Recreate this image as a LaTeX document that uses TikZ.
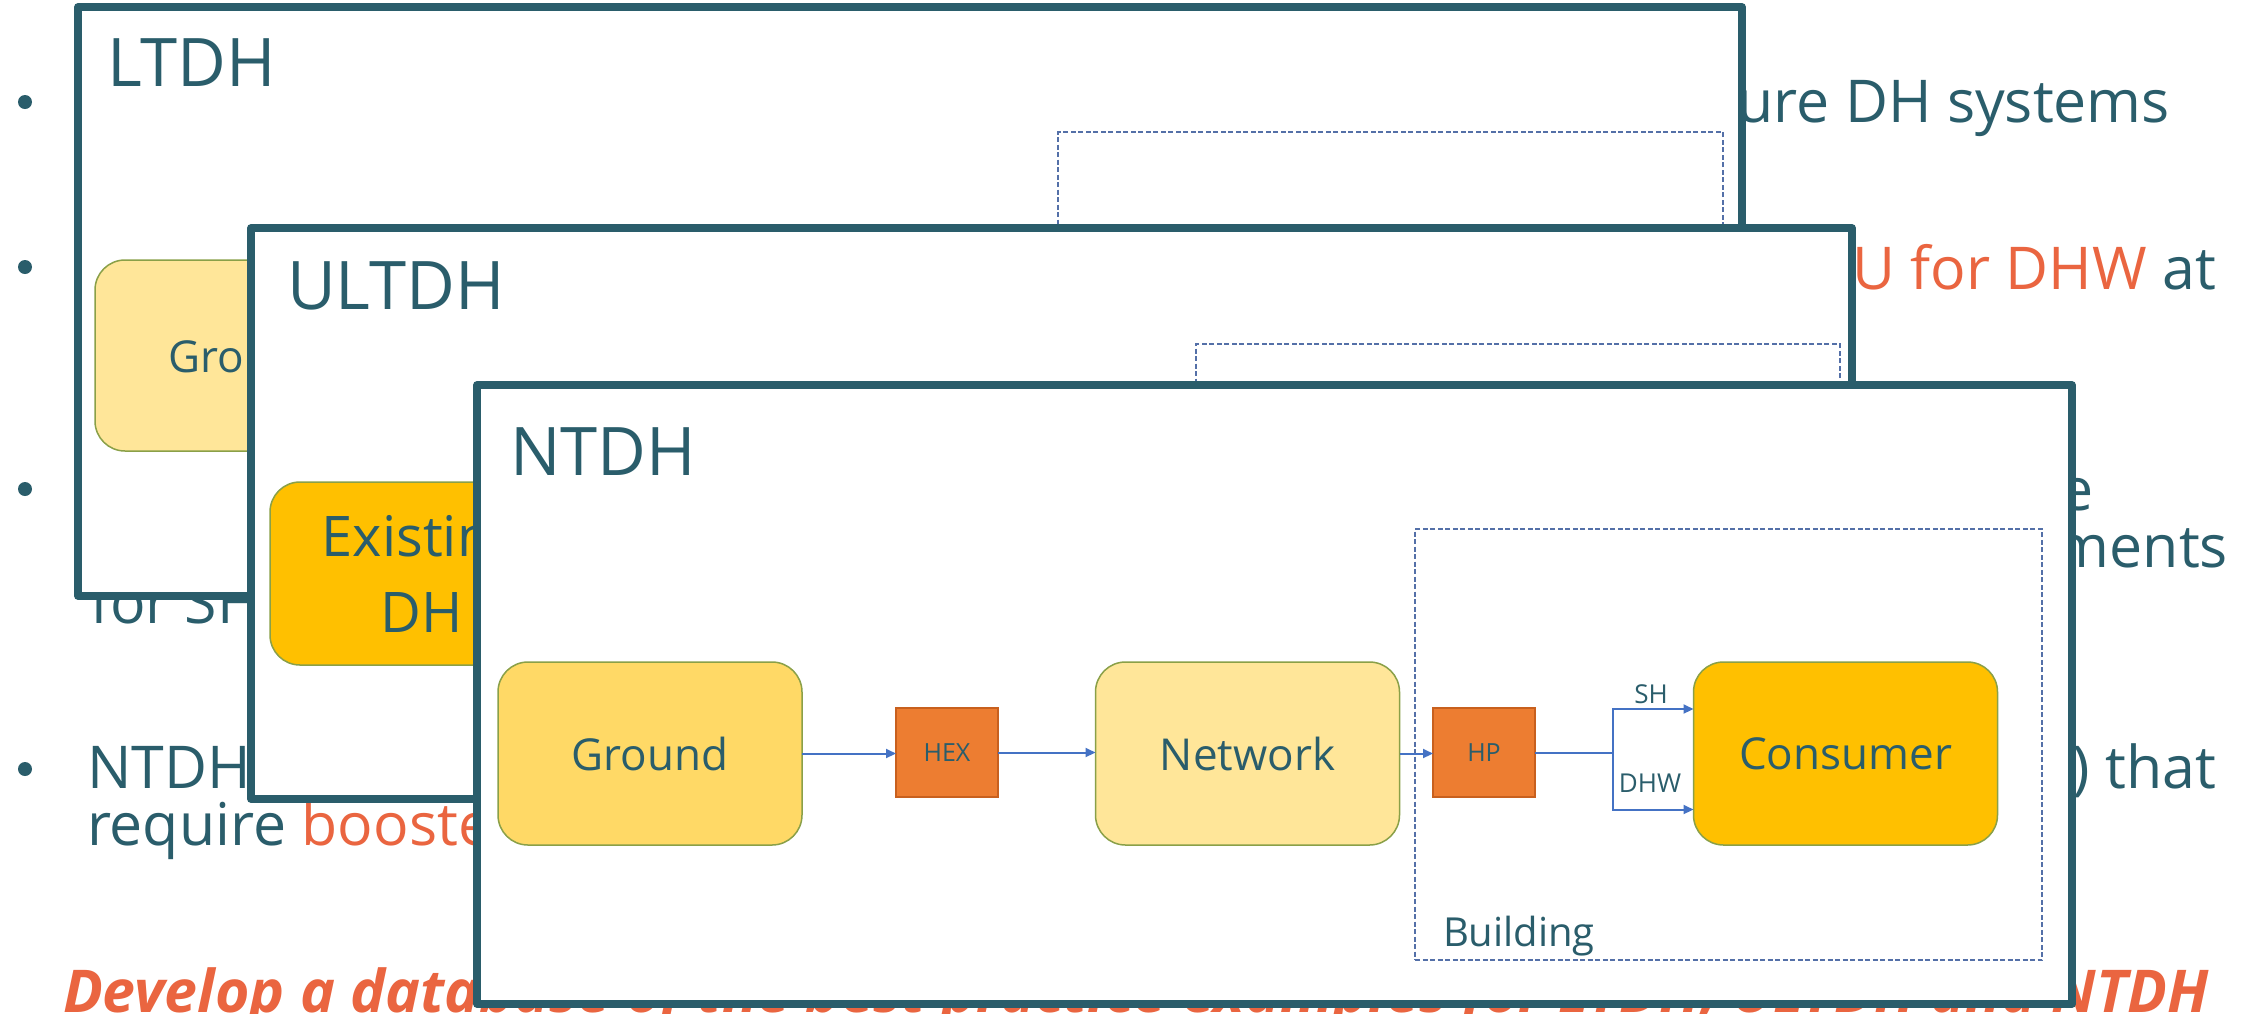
\documentclass[tikz,border=0pt]{standalone}
\usepackage{fontspec}
\setmainfont{Open Sans}
\usetikzlibrary{arrows.meta}
\definecolor{myteal}{HTML}{2A5D6B}
\definecolor{myorange}{HTML}{EA6540}
\definecolor{lightyel}{HTML}{FFE699}
\definecolor{midyel}{HTML}{FFD966}
\definecolor{gold}{HTML}{FFC000}
\definecolor{blkedge}{HTML}{8AA048}
\definecolor{sqfill}{HTML}{ED7D31}
\definecolor{sqedge}{HTML}{C8601E}
\definecolor{dashblue}{HTML}{5470A8}
\definecolor{arrowblue}{HTML}{4472C4}
\begin{document}
\begin{tikzpicture}[x=1pt,y=-1pt,
  every node/.style={inner sep=0pt, outer sep=0pt},
  bg/.style={font=\fontsize{59}{70}\selectfont, text=myteal, anchor=base west},
  slide/.style={draw=myteal, line width=7.5pt, fill=white, line join=round, anchor=north west},
  ttl/.style={font=\fontsize{67}{80}\selectfont, text=myteal, anchor=base west},
  blk/.style={draw=blkedge, line width=1.5pt, rounded corners=30pt, minimum width=304pt, minimum height=183pt, text=myteal, font=\fontsize{44}{52}\selectfont},
  sq/.style={draw=sqedge, fill=sqfill, line width=1.5pt, minimum width=102pt, minimum height=89pt, text=myteal, font=\fontsize{25}{30}\selectfont},
  bld/.style={draw=dashblue, line width=1.5pt, dash pattern=on 5pt off 2.5pt, anchor=north west},
  flow/.style={draw=arrowblue, line width=2pt, -{Triangle[length=10pt,width=9pt]}},
  lbl/.style={text=myteal, font=\fontsize{26}{30}\selectfont},
  bulletdot/.style={circle, fill=myteal, minimum size=14pt}
]
\useasboundingbox (0,0) rectangle (2252,1013);
\fill[white] (0,0) rectangle (2252,1013);

% background slide text
\node[bulletdot] (b1) at (25,102) {};
\node[bulletdot] (b2) at (25,267) {};
\node[bulletdot] (b3) at (25,489) {};
\node[bulletdot] (b4) at (25,769) {};
\node[bg, anchor=base east] (t1) at (2170,122) {ure DH systems};
\node[bg, anchor=base east] (t2) at (2216,289) {\textcolor{myorange}{U for DHW} at};
\node[bg, anchor=base east] (t3a) at (2094,510) {e};
\node[bg, anchor=base east] (t3b) at (2228,567) {ments};
\node[bg] (t3c) at (90,623) {for SH};
\node[bg] (t4a) at (87,788) {NTDH};
\node[bg, anchor=base east] (t4b) at (2216,788) {) that};
\node[bg] (t4c) at (87,845) {require \textcolor{myorange}{boosters}};
\node[anchor=base west, text=myorange, font=\fontsize{59}{70}\selectfont\bfseries\itshape] (dev) at (63,1012) {Develop a database of the best practice examples for LTDH, ULTDH and NTDH};

% LTDH slide
\node[slide, minimum width=1664pt, minimum height=589pt] (ltdh) at (78,7) {};
\node[ttl] (ltdhT) at (107,86) {LTDH};
\node[bld, minimum width=665pt, minimum height=300pt] (bldL) at (1058,132) {};
\node[blk, fill=lightyel, minimum height=191pt] (gndL) at (247,355.5) {Ground};

% ULTDH slide
\node[slide, minimum width=1601pt, minimum height=571pt] (ultdh) at (251,228) {};
\node[ttl] (ultdhT) at (287,309) {ULTDH};
\node[bld, minimum width=644pt, minimum height=200pt] (bldU) at (1196,344) {};
\node[blk, fill=gold, align=center, font=\fontsize{56}{76}\selectfont] (exU) at (422,573.5) {Existing\\DH};

% NTDH slide
\node[slide, minimum width=1595pt, minimum height=619pt] (ntdh) at (477,385) {};
\node[ttl] (ntdhT) at (510,475) {NTDH};
\node[bld, minimum width=627pt, minimum height=431pt] (bldN) at (1415,529) {};
\node[text=myteal, font=\fontsize{40}{48}\selectfont, anchor=base west] (bldT) at (1443,946) {Building};
\node[blk, fill=midyel] (gnd) at (650,753.5) {Ground};
\node[sq] (hex) at (947,752.5) {HEX};
\node[blk, fill=lightyel] (net) at (1247.5,753.5) {Network};
\node[sq] (hp) at (1484,752.5) {HP};
\node[blk, fill=gold] (con) at (1845.5,753.5) {Consumer};
\coordinate (jn) at (1613,752.5);

\draw[flow] (gnd.east) -- (gnd.east -| hex.west);
\draw[flow] (hex.east) -- (hex.east -| net.west);
\draw[flow] (net.east) -- (net.east -| hp.west);
\draw[draw=arrowblue, line width=2pt] (hp.east) -- (jn);
\draw[flow] (jn) |- ([yshift=44.5pt]con.west);
\draw[flow] (jn) |- ([yshift=-56pt]con.west);
\node[lbl] (shL) at (1651,694) {SH};
\node[lbl] (dhwL) at (1650,783) {DHW};
\end{tikzpicture}
\end{document}
